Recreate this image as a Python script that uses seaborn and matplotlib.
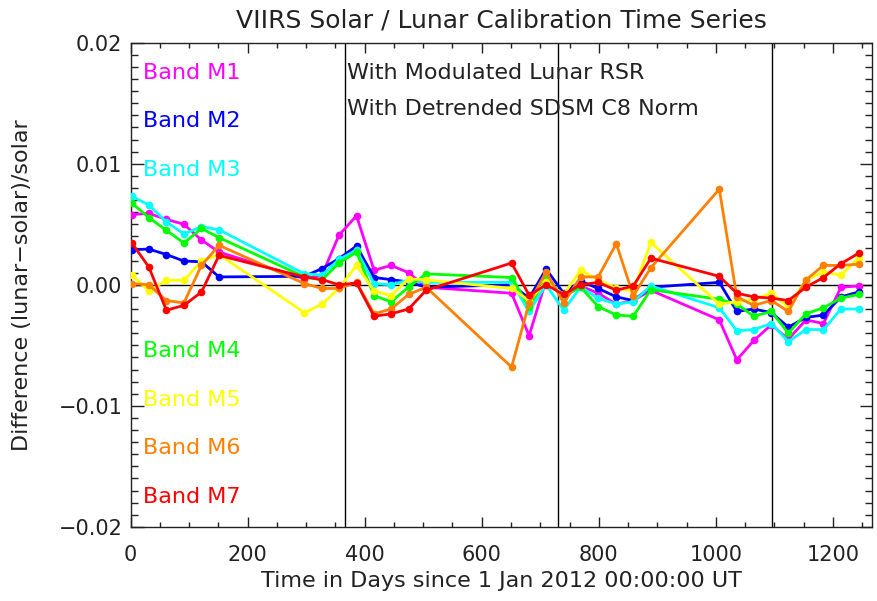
import numpy as np
import pandas as pd
import matplotlib
matplotlib.use("Agg")
import matplotlib.pyplot as plt
from matplotlib.ticker import MultipleLocator, FixedLocator, FixedFormatter
import seaborn as sns

# lunar calibration epochs (days since 1 Jan 2012)
days = [2, 31, 61, 91, 121, 151, 297, 327, 356, 386, 416, 445, 475, 505,
        651, 681, 710, 740, 769, 799, 830, 859, 889, 1006, 1036, 1065,
        1095, 1124, 1154, 1184, 1214, 1244]

# (lunar-solar)/solar, in units of 1e-3
m1 = [5.8, 5.9, 5.4, 5.0, 3.7, 2.7, 0.5, 0.8, 4.1, 5.7, 1.2, 1.6, 1.0, -0.2,
      -0.7, -4.2, 0.4, -1.0, -0.1, -0.7, -1.6, -1.3, -0.45, -2.9, -6.2, -4.6,
      -3.3, -4.5, -2.9, -3.2, -0.2, -0.1]
m2 = [2.9, 2.95, 2.5, 1.96, 1.9, 0.65, 0.7, 1.34, 2.16, 3.2, 0.6, 0.43, 0.23, -0.2,
      0.0, -1.1, 1.3, -0.7, 0.3, -0.3, -1.0, -1.3, -0.2, 0.2, -2.2, -2.0,
      -2.3, -3.5, -2.7, -2.5, -1.0, -0.6]
m3 = [7.3, 6.6, 5.2, 4.2, 4.8, 4.55, 0.9, 0.8, 2.1, 2.85, 0.1, 0.0, 0.4, 0.2,
      0.2, -2.2, 0.0, -2.1, -0.2, -1.1, -1.6, -1.4, -0.1, -1.9, -3.8, -3.7,
      -3.2, -4.7, -3.7, -3.7, -2.0, -2.0]
m4 = [6.75, 5.55, 4.5, 3.45, 4.65, 3.9, 0.65, 0.4, 1.8, 2.7, -0.9, -1.4, -0.2, 0.9,
      0.6, -1.8, 0.5, -0.9, -0.2, -1.8, -2.5, -2.6, -0.4, -1.2, -1.6, -2.6,
      -2.2, -4.0, -2.4, -1.9, -1.1, -0.8]
m5 = [0.8, -0.5, 0.37, 0.37, 1.96, 2.5, -2.3, -1.6, -0.3, 1.6, -0.5, -0.9, 0.5, 0.4,
      -0.3, -1.3, 0.2, -0.8, 1.2, 0.4, -0.3, -0.5, 3.5, -1.6, -1.4, -1.2,
      -0.7, -1.8, 0.4, 1.06, 0.8, 2.2]
m6 = [0.1, 0.0, -1.3, -1.5, 1.6, 3.26, 0.1, -0.3, -0.3, 0.2, -2.4, -2.0, -0.8, -0.2,
      -6.8, -1.5, 1.06, -1.5, 0.65, 0.65, 3.4, -0.9, 1.4, 7.9, -1.0, -1.7,
      -1.3, -2.2, 0.4, 1.6, 1.6, 1.7]
m7 = [3.45, 1.47, -2.1, -1.7, -0.6, 2.43, 0.65, 0.43, 0.0, 0.15, -2.6, -2.4, -2.0, -0.45,
      1.8, -0.87, 0.0, -0.8, 0.0, 0.2, -0.45, -0.1, 2.2, 0.7, -0.7, -1.0,
      -1.1, -1.3, -0.2, 0.6, 1.75, 2.6]

bands = ["Band M1", "Band M2", "Band M3", "Band M4", "Band M5", "Band M6", "Band M7"]
band_colors = ["#ff00ff", "#0000ff", "#00ffff", "#00ff00", "#ffff00", "#ff8000", "#ff0000"]
label_y = [0.0175, 0.0135, 0.0095, -0.0055, -0.0095, -0.0135, -0.0175]
year_marks = [366, 731, 1096]
yticks = [-0.02, -0.01, 0.0, 0.01, 0.02]
ytick_labels = ["\u22120.02", "\u22120.01", "0.00", "0.01", "0.02"]

rows = []
for name, vals in zip(bands, [m1, m2, m3, m4, m5, m6, m7]):
    for d, v in zip(days, vals):
        rows.append({"day": d, "diff": v * 1e-3, "band": name})
df = pd.DataFrame(rows)

sns.set_style("ticks")
plt.rcParams["font.family"] = ["DejaVu Sans"]

fig = plt.figure(figsize=(8.77, 6.01), dpi=100)
ax = fig.add_axes([0.149, 0.1233, 0.8453, 0.8057])

for d in year_marks:
    ax.axvline(d, color="black", lw=1, zorder=1)
ax.axhline(0, color="black", lw=1, zorder=1)

sns.lineplot(data=df, x="day", y="diff", hue="band", hue_order=bands,
             palette=band_colors, marker="o", markersize=5.5, markeredgewidth=0,
             linewidth=2, sort=False, legend=False, ax=ax, zorder=3)

ax.set_xlim(0, 1267)
ax.set_ylim(-0.02, 0.02)
ax.xaxis.set_major_locator(MultipleLocator(200))
ax.xaxis.set_minor_locator(MultipleLocator(50))
ax.yaxis.set_major_locator(FixedLocator(yticks))
ax.yaxis.set_major_formatter(FixedFormatter(ytick_labels))
ax.yaxis.set_minor_locator(MultipleLocator(0.001))
ax.tick_params(axis="both", which="both", direction="in", top=True, right=True,
               colors="#222222", width=1)
ax.tick_params(axis="x", which="major", length=7, pad=13, labelsize=15)
ax.tick_params(axis="x", which="minor", length=3.5)
ax.tick_params(axis="y", which="major", length=9, pad=6, labelsize=15)
ax.tick_params(axis="y", which="minor", length=5)
for s in ax.spines.values():
    s.set_color("#222222")
    s.set_linewidth(1)

ax.set_title("VIIRS Solar / Lunar Calibration Time Series", fontsize=18, pad=11,
             color="#222222")
ax.set_xlabel("Time in Days since 1 Jan 2012 00:00:00 UT", fontsize=16, color="#222222")
ax.set_ylabel("Difference (lunar\u2212solar)/solar", fontsize=16, color="#222222")
ax.xaxis.set_label_coords(0.5, -0.112)
ax.xaxis.label.set_va("center")
ax.yaxis.set_label_coords(-0.1466, 0.5)
ax.yaxis.label.set_va("center")

for name, c, y in zip(bands, band_colors, label_y):
    ax.text(21, y, name, color=c, fontsize=16, va="center", ha="left")
ax.text(370, 0.0175, "With Modulated Lunar RSR", fontsize=16, va="center", color="#222222")
ax.text(370, 0.01455, "With Detrended SDSM C8 Norm", fontsize=16, va="center", color="#222222")

fig.savefig("out.png", dpi=100)
